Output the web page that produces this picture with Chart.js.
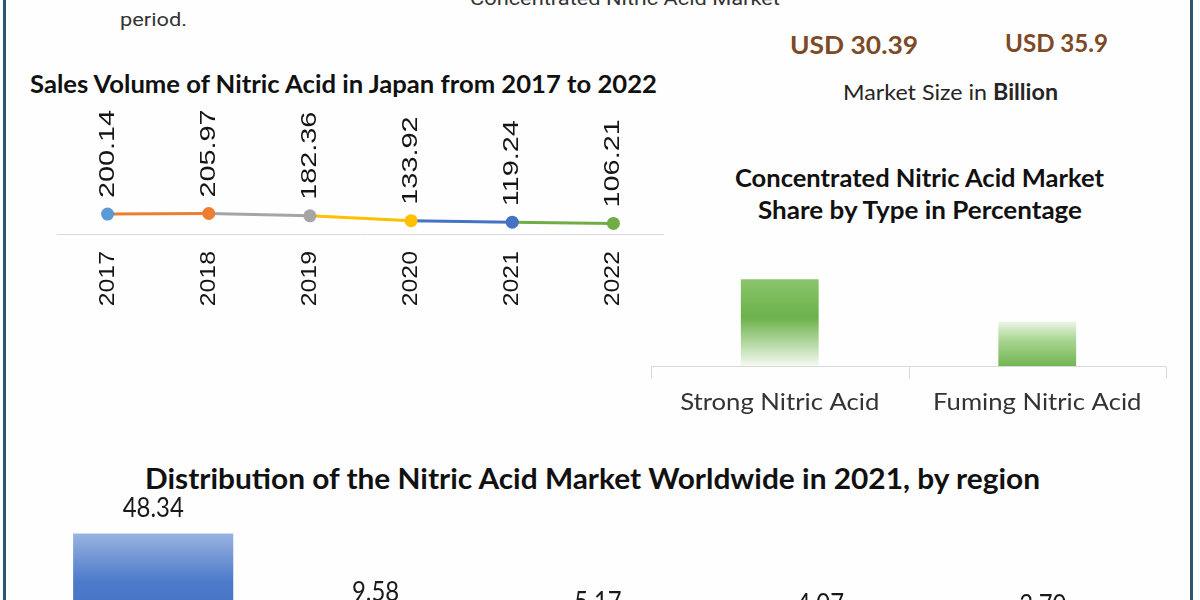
<!DOCTYPE html>
<html><head><meta charset="utf-8">
<script src="https://cdn.jsdelivr.net/npm/chart.js@4.4.1/dist/chart.umd.min.js"></script>
<style>
html,body{margin:0;padding:0;width:1200px;height:600px;overflow:hidden;background:#fff;}
#page{position:relative;width:1200px;height:600px;overflow:hidden;background:#fefefe;}
.bl{position:absolute;top:0;width:3px;height:600px;background:#2f5573;}
.t{position:absolute;white-space:nowrap;line-height:1;transform-origin:left center;transform:translateY(-50%);}
.cv{position:absolute;}
</style></head><body>
<div id="page">
  <div class="t" data-w="310" style="left:470px;top:-2px;font:19px Roboto;color:#333">Concentrated Nitric Acid Market</div>
  <div class="t" data-w="67" style="left:120px;top:19px;font:19px Roboto;color:#333">period.</div>
  <div class="t" data-w="128" style="left:790px;top:44px;font:bold 24px Lato;color:#7c4a26">USD 30.39</div>
  <div class="t" data-w="103" style="left:1005px;top:42px;font:bold 24px Lato;color:#7c4a26">USD 35.9</div>
  <div class="t" data-w="215" style="left:843px;top:91px;font:22px Lato;color:#262626">Market Size in <b>Billion</b></div>
  <div class="t" data-w="627" style="left:30px;top:83px;font:bold 24px Lato;color:#111">Sales Volume of Nitric Acid in Japan from 2017 to 2022</div>
  <div class="t" data-w="369" style="left:735px;top:177px;font:bold 24px Lato;color:#111">Concentrated Nitric Acid Market</div>
  <div class="t" data-w="324" style="left:758px;top:209px;font:bold 24px Lato;color:#111">Share by Type in Percentage</div>
  <div class="t" data-w="895" style="left:145px;top:477px;font:bold 29px Lato;color:#111">Distribution of the Nitric Acid Market Worldwide in 2021, by region</div>

  <canvas id="lineChart" class="cv" width="700" height="340" style="left:0;top:0"></canvas>
  <canvas id="typeChart" class="cv" width="580" height="200" style="left:620px;top:220px"></canvas>
  <canvas id="regionChart" class="cv" width="1200" height="220" style="left:0;top:460px"></canvas>

  <div class="bl" style="left:3px"></div>
  <div class="bl" style="left:1190px"></div>
</div>
<script>
// ---- data ----
const years = ['2017', '2018', '2019', '2020', '2021', '2022'];
const salesVolume = [200.14, 205.97, 182.36, 133.92, 119.24, 106.21];
const yearColors = ['#5b9bd5', '#ed7d31', '#a5a5a5', '#ffc000', '#4472c4', '#70ad47'];

const acidTypes = ['Strong Nitric Acid', 'Fuming Nitric Acid'];
const typeShare = [66, 34];

const regions = ['Asia Pacific', 'Europe', 'North America', 'Latin America', 'Middle East & Africa'];
const regionShare = [48.34, 9.58, 5.17, 4.07, 3.70];

// ---- fit html text widths ----
document.querySelectorAll('.t').forEach(el => {
  const w = el.getBoundingClientRect().width;
  const s = parseFloat(el.dataset.w) / w;
  el.style.transform = 'translateY(-50%) scaleX(' + s + ')';
});

const base = {responsive:false, animation:false, devicePixelRatio:1,
  plugins:{legend:{display:false}, tooltip:{enabled:false}}};

// ---- line chart ----
const lineDeco = {
  id:'lineDeco',
  beforeDatasetsDraw(chart){
    const {ctx, chartArea:a} = chart;
    ctx.save();
    ctx.strokeStyle = '#d9d9d9'; ctx.lineWidth = 1;
    ctx.beginPath(); ctx.moveTo(a.left, Math.round(a.bottom)+0.5); ctx.lineTo(a.right, Math.round(a.bottom)+0.5); ctx.stroke();
    ctx.restore();
  },
  afterDatasetsDraw(chart){
    const {ctx, chartArea:a, scales:{x, y}} = chart;
    ctx.save();
    ctx.fillStyle = '#151515';
    ctx.font = '22px "Liberation Sans", Arial, sans-serif';
    ctx.textBaseline = 'middle';
    salesVolume.forEach((v, i) => {
      const px = x.getPixelForValue(i), py = y.getPixelForValue(v);
      ctx.save(); ctx.translate(px, py - 16); ctx.rotate(-Math.PI/2); ctx.scale(1.31, 1);
      ctx.textAlign = 'left'; ctx.fillText(v.toFixed(2), 0, 0); ctx.restore();
    });
    years.forEach((lab, i) => {
      const px = x.getPixelForValue(i);
      ctx.save(); ctx.translate(px, a.bottom + 17); ctx.rotate(-Math.PI/2); ctx.scale(1.13, 1);
      ctx.textAlign = 'right'; ctx.fillText(lab, 0, 0); ctx.restore();
    });
    ctx.restore();
  }
};
new Chart(document.getElementById('lineChart'), {
  type:'line',
  data:{labels:years, datasets:[{data:salesVolume, borderWidth:3, tension:0,
    pointRadius:6.5, pointBackgroundColor:yearColors, pointBorderColor:yearColors, pointBorderWidth:0,
    segment:{borderColor: c => yearColors[c.p1DataIndex]}, clip:false}]},
  options:{...base,
    layout:{autoPadding:false, padding:{left:57, right:36, top:35, bottom:106}},
    scales:{x:{display:false, offset:true}, y:{display:false, min:0, max:2000}}},
  plugins:[lineDeco]
});

// ---- type share chart ----
const typeDeco = {
  id:'typeDeco',
  afterDatasetsDraw(chart){
    const {ctx, chartArea:a, scales:{x}} = chart;
    const yb = Math.round(a.bottom) + 0.5;
    ctx.save();
    ctx.strokeStyle = '#d9d9d9'; ctx.lineWidth = 1;
    ctx.beginPath(); ctx.moveTo(a.left, yb); ctx.lineTo(a.right, yb);
    const step = (a.right - a.left) / acidTypes.length;
    for (let i = 0; i <= acidTypes.length; i++) {
      const tx = Math.round(a.left + step*i) + 0.5;
      ctx.moveTo(tx, yb); ctx.lineTo(tx, yb + 12);
    }
    ctx.stroke();
    ctx.fillStyle = '#333';
    ctx.font = '24px Lato, sans-serif';
    ctx.textAlign = 'center'; ctx.textBaseline = 'middle';
    acidTypes.forEach((lab, i) => {
      ctx.save(); ctx.translate(x.getPixelForValue(i), a.bottom + 36); ctx.scale(1.07, 1);
      ctx.fillText(lab, 0, 0); ctx.restore();
    });
    ctx.restore();
  }
};
function greenFill(c){
  const ch = c.chart; const sy = ch.scales.y;
  if (!sy || !ch.chartArea) return '#70ad47';
  const top = sy.getPixelForValue(typeShare[c.dataIndex]), bot = sy.getPixelForValue(0);
  const g = ch.ctx.createLinearGradient(0, top, 0, bot);
  if (c.dataIndex === 0) {
    g.addColorStop(0, '#8cc56d'); g.addColorStop(0.45, '#6cb14a'); g.addColorStop(1, '#f4faf1');
  } else {
    g.addColorStop(0, '#eef7ea'); g.addColorStop(0.45, '#a6d48e'); g.addColorStop(1, '#74b653');
  }
  return g;
}
new Chart(document.getElementById('typeChart'), {
  type:'bar',
  data:{labels:acidTypes, datasets:[{data:typeShare, backgroundColor:greenFill,
    borderColor:'rgba(255,255,255,0.6)', borderWidth:1, barPercentage:0.31, categoryPercentage:1}]},
  options:{...base,
    layout:{autoPadding:false, padding:{left:31, right:34, top:13, bottom:54}},
    scales:{x:{display:false}, y:{display:false, min:0, max:100}}},
  plugins:[typeDeco]
});

// ---- region chart ----
const regionDeco = {
  id:'regionDeco',
  afterDatasetsDraw(chart){
    const {ctx, scales:{x, y}} = chart;
    ctx.save();
    ctx.fillStyle = '#1a1a1a';
    ctx.font = '26px Lato, sans-serif';
    ctx.textAlign = 'center'; ctx.textBaseline = 'alphabetic';
    regionShare.forEach((v, i) => {
      ctx.save(); ctx.translate(x.getPixelForValue(i), y.getPixelForValue(v) - 17); ctx.scale(0.92, 1);
      ctx.fillText(v.toFixed(2), 0, 0); ctx.restore();
    });
    ctx.restore();
  }
};
function blueFill(c){
  const ch = c.chart; const sy = ch.scales.y;
  if (!sy || !ch.chartArea) return '#4472c4';
  const top = sy.getPixelForValue(regionShare[c.dataIndex]), bot = sy.getPixelForValue(0);
  const g = ch.ctx.createLinearGradient(0, top, 0, bot);
  g.addColorStop(0, '#98b3e0'); g.addColorStop(0.45, '#4d7bca'); g.addColorStop(1, '#3e6bbd');
  return g;
}
new Chart(document.getElementById('regionChart'), {
  type:'bar',
  data:{labels:regions, datasets:[{data:regionShare, backgroundColor:blueFill,
    barPercentage:0.72, categoryPercentage:1}]},
  options:{...base,
    layout:{autoPadding:false, padding:{left:42, right:46, top:70, bottom:41}},
    scales:{x:{display:false}, y:{display:false, min:0, max:50}}},
  plugins:[regionDeco]
});
</script>
</body></html>
